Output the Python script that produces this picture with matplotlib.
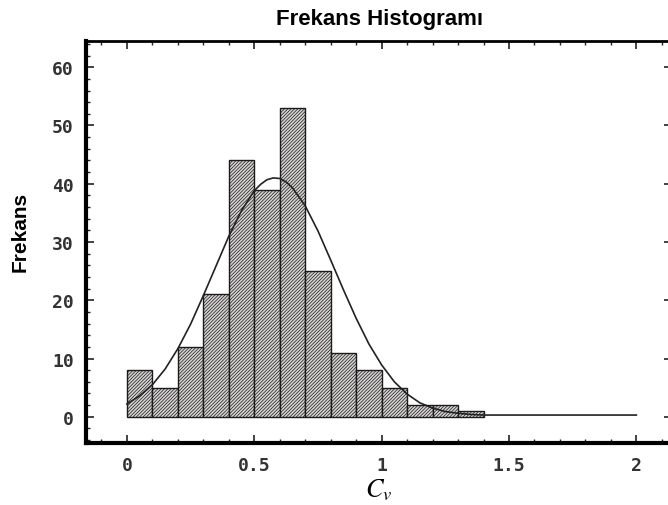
import matplotlib
matplotlib.use("Agg")
from matplotlib import pyplot as plt
from matplotlib.ticker import MultipleLocator

plt.rcParams["mathtext.fontset"] = "stix"
plt.rcParams["hatch.linewidth"] = 0.5
plt.rcParams["hatch.color"] = "#4a4a4a"

# bin edges (left) and counts
bin_left = [0.0, 0.1, 0.2, 0.3, 0.4, 0.5, 0.6, 0.7, 0.8, 0.9, 1.0, 1.1, 1.2, 1.3]
counts = [8, 5, 12, 21, 44, 39, 53, 25, 11, 8, 5, 2, 2, 1]

# fitted curve
curve_x = [0.0, 0.05, 0.1, 0.15, 0.2, 0.25, 0.3, 0.35, 0.4, 0.45, 0.5, 0.525,
           0.55, 0.575, 0.6, 0.625, 0.65, 0.7, 0.75, 0.8, 0.85, 0.9, 0.95, 1.0,
           1.05, 1.1, 1.15, 1.2, 1.25, 1.3, 1.35, 1.4, 1.5, 2.0]
curve_y = [2.2, 3.6, 5.5, 8.2, 11.7, 15.9, 20.8, 25.9, 31.0, 35.4, 38.8, 39.9,
           40.7, 41.0, 40.9, 40.3, 39.3, 36.2, 31.9, 26.9, 21.8, 16.9, 12.5, 8.9,
           6.0, 3.9, 2.4, 1.5, 0.9, 0.6, 0.4, 0.3, 0.3, 0.3]

fig = plt.figure(figsize=(6.68, 5.06), dpi=100)
ax = fig.add_axes([0.129, 0.1225, 0.877, 0.7945])

ax.bar(bin_left, counts, width=0.1, align="edge", facecolor="#d6d2d2",
       edgecolor="#1a1a1a", linewidth=1.0, hatch="/" * 10)
ax.plot(curve_x, curve_y, color="#222222", linewidth=1.2)

ax.set_xlim(-0.16, 2.14)
ax.set_ylim(-4.5, 64.5)

ax.xaxis.set_major_locator(MultipleLocator(0.5))
ax.xaxis.set_minor_locator(MultipleLocator(0.1))
ax.yaxis.set_major_locator(MultipleLocator(10))
ax.yaxis.set_minor_locator(MultipleLocator(2))
ax.set_xticks([0, 0.5, 1, 1.5, 2])
ax.set_xticklabels(["0", "0.5", "1", "1.5", "2"])

ax.tick_params(which="both", direction="in", top=True, right=True,
               colors="#222222", labelcolor="#333333")
ax.tick_params(which="major", length=6, width=1.2, pad=9)
ax.tick_params(which="minor", length=3, width=1.0)
for lab in ax.get_xticklabels() + ax.get_yticklabels():
    lab.set_fontfamily("DejaVu Sans Mono")
    lab.set_fontweight("bold")
    lab.set_fontsize(13)

ax.spines["left"].set_linewidth(3)
ax.spines["bottom"].set_linewidth(3)
ax.spines["top"].set_linewidth(2)
ax.spines["right"].set_linewidth(2)

ax.set_ylabel("Frekans", fontsize=15, fontweight="bold",
              family="Liberation Sans")
ax.yaxis.set_label_coords(-0.097, 0.527)
ax.set_xlabel(r"$C_v$", fontsize=19, labelpad=2)
ax.set_title("Frekans Histogramı", fontsize=16, fontweight="bold",
             family="Liberation Sans", pad=12)

plt.savefig("out.png", dpi=100)
